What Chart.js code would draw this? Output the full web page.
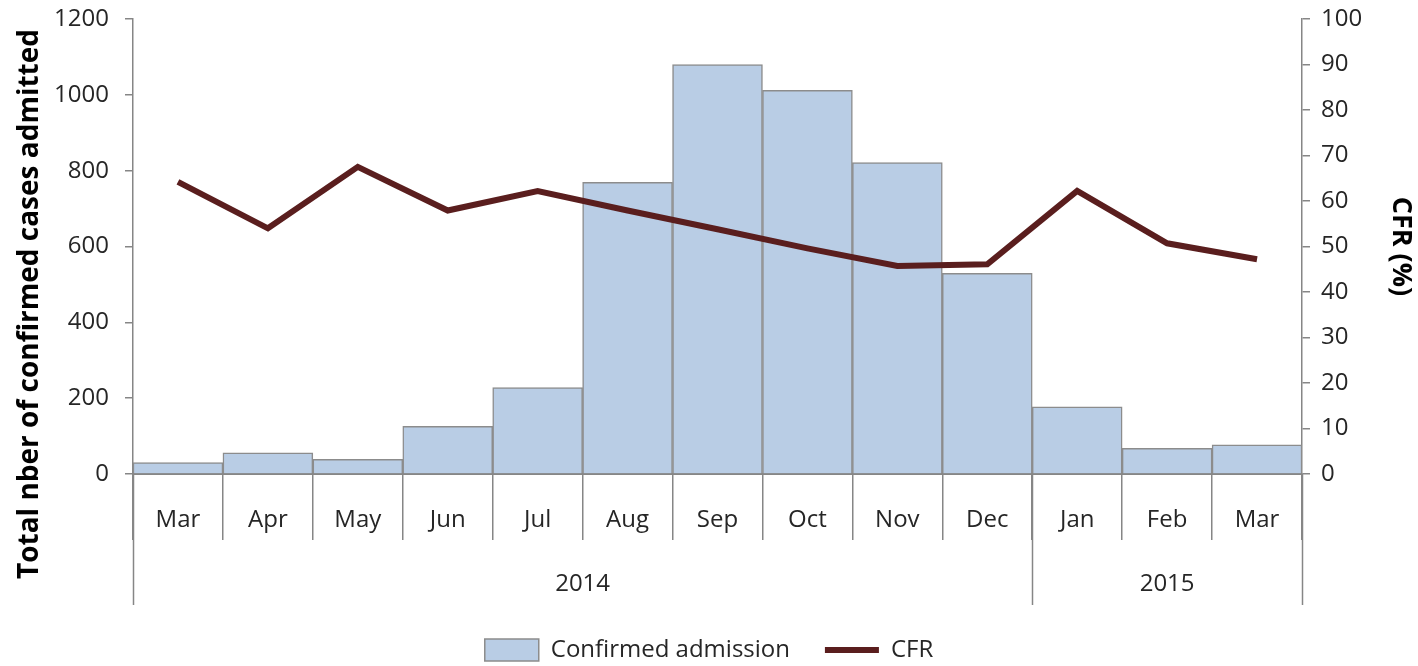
<!DOCTYPE html>
<html lang="en">
<head>
  <meta charset="UTF-8" />
  <title>Confirmed admissions and CFR</title>
  <script src="https://cdn.jsdelivr.net/npm/chart.js"></script>
  <style>
    html, body {
      margin: 0;
      padding: 0;
      background: #fff;
    }
    .wrap {
      width: 1418px;
      height: 666px;
    }
  </style>
</head>
<body>
  <div class="wrap"><canvas id="chart" width="1418" height="666"></canvas></div>

  <script>
    // data
    const months = ['Mar', 'Apr', 'May', 'Jun', 'Jul', 'Aug', 'Sep', 'Oct', 'Nov', 'Dec', 'Jan', 'Feb', 'Mar'];
    const years = ['2014', '2015'];
    const monthsPerYear = [10, 3];
    const admissions = [30, 56, 39, 126, 228, 769, 1080, 1012, 821, 529, 177, 68, 77];
    const cfr = [64.2, 54.0, 67.5, 57.9, 62.2, 57.9, 53.8, 49.6, 45.7, 46.1, 62.2, 50.7, 47.2];
    const leftRange = [0, 1200, 200];
    const rightRange = [0, 100, 10];

    const FONT = "'Open Sans', sans-serif";
    const axisGrey = '#868686';
    const textColor = '#262626';
    const yearRowDepth = 131;

    // second row of the category axis: years with their separators
    const yearRow = {
      id: 'yearRow',
      afterDraw(chart) {
        const x = chart.scales.x;
        const ctx = chart.ctx;
        const step = x.getPixelForValue(1) - x.getPixelForValue(0);
        const top = chart.chartArea.bottom;
        const bottom = top + yearRowDepth;
        const edge = i => x.getPixelForValue(i) - step / 2;

        ctx.save();
        ctx.strokeStyle = axisGrey;
        ctx.lineWidth = 1.5;
        ctx.font = '24px ' + FONT;
        ctx.fillStyle = textColor;
        ctx.textAlign = 'center';
        ctx.textBaseline = 'middle';

        let start = 0;
        const edges = [0];
        monthsPerYear.forEach((n, i) => {
          const a = edge(start), b = edge(start + n);
          ctx.fillText(years[i], (a + b) / 2, top + 110);
          start += n;
          edges.push(start);
        });
        edges.forEach(i => {
          const px = Math.round(edge(i)) + 0.5;
          ctx.beginPath();
          ctx.moveTo(px, top);
          ctx.lineTo(px, bottom);
          ctx.stroke();
        });
        ctx.restore();
      }
    };

    // left axis title, centred on plot + category rows like the original
    const leftTitle = {
      id: 'leftTitle',
      afterDraw(chart) {
        const ctx = chart.ctx;
        const top = chart.chartArea.top;
        const bottom = chart.chartArea.bottom + yearRowDepth;
        ctx.save();
        ctx.translate(30, (top + bottom) / 2 - 8);
        ctx.rotate(-Math.PI / 2);
        ctx.font = 'bold 28px ' + FONT;
        ctx.fillStyle = '#000';
        ctx.textAlign = 'center';
        ctx.textBaseline = 'middle';
        ctx.fillText('Total nber of confirmed cases admitted', 0, 0);
        ctx.restore();
      }
    };

    const plain = v => String(v);

    const ctx = document.getElementById('chart').getContext('2d');

    new Chart(ctx, {
      data: {
        labels: months,
        datasets: [
          {
            type: 'bar',
            label: 'Confirmed admission',
            data: admissions,
            yAxisID: 'y',
            backgroundColor: '#b9cde5',
            borderColor: '#8c8c8c',
            borderWidth: 1.5,
            categoryPercentage: 1,
            barPercentage: 1,
            pointStyle: 'rect',
            order: 2
          },
          {
            type: 'line',
            label: 'CFR',
            data: cfr,
            yAxisID: 'y1',
            borderColor: '#5a1e1e',
            backgroundColor: '#5a1e1e',
            borderWidth: 6,
            pointRadius: 0,
            tension: 0,
            pointStyle: 'line',
            order: 1
          }
        ]
      },
      options: {
        responsive: false,
        devicePixelRatio: 1,
        animation: false,
        layout: { padding: { top: 19, left: 0, right: 0, bottom: -6 } },
        scales: {
          x: {
            grid: {
              offset: true,
              drawOnChartArea: false,
              tickLength: 66,
              color: axisGrey,
              lineWidth: 1.5
            },
            border: { color: axisGrey, width: 2 },
            ticks: {
              padding: -34,
              autoSkip: false,
              maxRotation: 0,
              color: textColor,
              font: { family: FONT, size: 24 }
            },
            afterFit: s => { s.height = 154; }
          },
          y: {
            position: 'left',
            min: leftRange[0],
            max: leftRange[1],
            ticks: {
              stepSize: leftRange[2],
              padding: 16,
              callback: plain,
              color: textColor,
              font: { family: FONT, size: 24 }
            },
            grid: { drawOnChartArea: false, tickLength: 8, color: axisGrey, lineWidth: 1.5 },
            border: { color: axisGrey, width: 1.5 },
            afterFit: s => { s.width = 133; s.paddingTop = 0; s.paddingBottom = 0; }
          },
          y1: {
            position: 'right',
            min: rightRange[0],
            max: rightRange[1],
            ticks: {
              stepSize: rightRange[2],
              padding: 11,
              callback: plain,
              color: textColor,
              font: { family: FONT, size: 24 }
            },
            grid: { drawOnChartArea: false, tickLength: 8, color: axisGrey, lineWidth: 1.5 },
            border: { color: axisGrey, width: 1.5 },
            title: {
              display: true,
              text: 'CFR (%)',
              color: '#000',
              font: { family: FONT, size: 27, weight: 'bold' },
              padding: { top: 1, bottom: 0 }
            },
            afterFit: s => { s.width = 116; s.paddingTop = 0; s.paddingBottom = 0; }
          }
        },
        plugins: {
          legend: {
            position: 'bottom',
            labels: {
              usePointStyle: true,
              pointStyleWidth: 54,
              boxHeight: 22,
              padding: 10,
              color: textColor,
              font: { family: FONT, size: 24 },
              sort: (a, b) => a.datasetIndex - b.datasetIndex,
              generateLabels: chart => {
                const items = Chart.defaults.plugins.legend.labels.generateLabels(chart);
                // wider gap between the two entries, as in the original
                items.forEach(it => { if (it.datasetIndex === 0) it.text += '    '; });
                return items;
              }
            }
          },
          tooltip: { enabled: false }
        }
      },
      plugins: [yearRow, leftTitle]
    });
  </script>
</body>
</html>
